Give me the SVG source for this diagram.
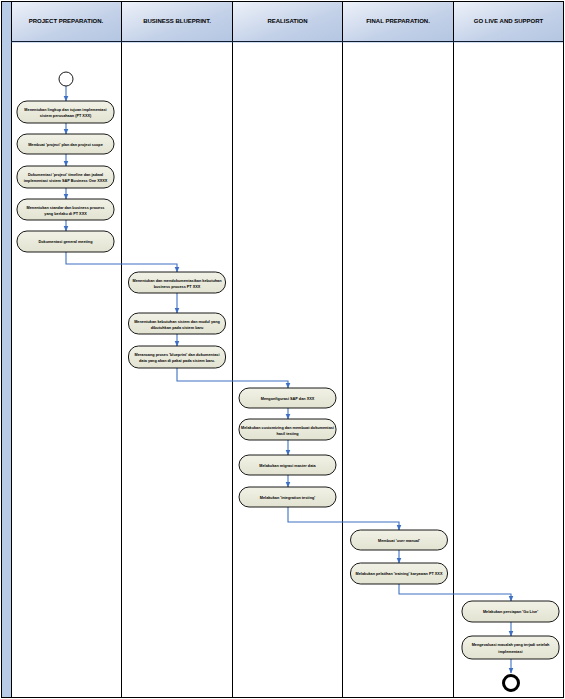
<svg xmlns="http://www.w3.org/2000/svg" width="565" height="699" viewBox="0 0 565 699">
<defs>
<linearGradient id="hdr" x1="0" y1="0" x2="1" y2="1">
<stop offset="0" stop-color="#eef2f9"/>
<stop offset="0.6" stop-color="#c3d1e8"/>
<stop offset="1" stop-color="#b4c6e2"/>
</linearGradient>
<linearGradient id="nodefill" x1="0" y1="0" x2="0" y2="1">
<stop offset="0" stop-color="#f1f1e6"/>
<stop offset="1" stop-color="#e3e3d2"/>
</linearGradient>
<marker id="arr" viewBox="0 0 6 6" refX="5.5" refY="3" markerWidth="6" markerHeight="6" markerUnits="userSpaceOnUse" orient="auto">
<path d="M0,0.5 L6,3 L0,5.5 Z" fill="#3d70c4"/>
</marker>
<style>
.lane{fill:#ffffff;stroke:#000;stroke-width:1}
.hdr{fill:url(#hdr);stroke:#000;stroke-width:1}
.ht{font-family:"Liberation Sans",Arial,sans-serif;font-size:6px;font-weight:bold;fill:#000;text-anchor:middle}
.node rect{fill:url(#nodefill);stroke:#000;stroke-width:0.9}
.nt{font-family:"Liberation Sans",Arial,sans-serif;font-size:3.8px;font-weight:bold;fill:#000;text-anchor:middle}
.conn path{fill:none;stroke:#3d70c4;stroke-width:1.1;marker-end:url(#arr)}
</style>
</defs>

<!-- frame and lanes -->
<g id="pool">
<rect x="1.5" y="1.5" width="10" height="696" fill="#b8cbe6" stroke="#000" stroke-width="1"/>
<rect class="lane" x="11.5" y="41.5" width="110" height="656"/>
<rect class="lane" x="121.5" y="41.5" width="111" height="656"/>
<rect class="lane" x="232.5" y="41.5" width="110" height="656"/>
<rect class="lane" x="342.5" y="41.5" width="111" height="656"/>
<rect class="lane" x="453.5" y="41.5" width="110" height="656"/>
<rect class="hdr" x="11.5" y="1.5" width="110" height="40"/>
<rect class="hdr" x="121.5" y="1.5" width="111" height="40"/>
<rect class="hdr" x="232.5" y="1.5" width="110" height="40"/>
<rect class="hdr" x="342.5" y="1.5" width="111" height="40"/>
<rect class="hdr" x="453.5" y="1.5" width="110" height="40"/>
<line x1="11.5" y1="42" x2="563.5" y2="42" stroke="#3d70c4" stroke-width="1" stroke-dasharray="1,1"/>
<text class="ht" x="66" y="23">PROJECT PREPARATION.</text>
<text class="ht" x="177" y="23">BUSINESS BLUEPRINT.</text>
<text class="ht" x="287.5" y="23">REALISATION</text>
<text class="ht" x="398" y="23">FINAL PREPARATION.</text>
<text class="ht" x="508.5" y="23">GO LIVE AND SUPPORT</text>
</g>

<!-- connectors -->
<g id="connectors" class="conn">
<path d="M66,86 V101"/>
<path d="M66,123 V134"/>
<path d="M66,154 V166"/>
<path d="M66,188 V199"/>
<path d="M66,220 V231"/>
<path d="M66,252 V264 H177 V272"/>
<path d="M177,293 V313"/>
<path d="M177,334 V346"/>
<path d="M177,368 V381 H288 V388"/>
<path d="M288,408 V419"/>
<path d="M288,440 V455"/>
<path d="M288,475 V487"/>
<path d="M288,507 V522 H399 V530"/>
<path d="M399,550 V563"/>
<path d="M399,584 V594 H511 V601"/>
<path d="M511,622 V636"/>
<path d="M511,659 V673"/>
</g>

<!-- start / end -->
<g id="start"><circle cx="66" cy="79" r="7" fill="#fff" stroke="#000" stroke-width="0.9"/></g>
<g id="end"><circle cx="511" cy="683" r="7.5" fill="#fff" stroke="#000" stroke-width="3"/></g>

<!-- lane 1 -->
<g id="n1" class="node"><rect x="17" y="101" width="97" height="22" rx="10"/><text class="nt" x="65.5" y="111">Menentukan lingkup dan tujuan implementasi</text><text class="nt" x="65.5" y="117">sistem perusahaan (PT XXX)</text></g>
<g id="n2" class="node"><rect x="17" y="134" width="97" height="20" rx="10"/><text class="nt" x="65.5" y="145.5">Membuat 'project' plan dan project scope</text></g>
<g id="n3" class="node"><rect x="17" y="166" width="97" height="22" rx="10"/><text class="nt" x="65.5" y="176">Dokumentasi 'project' timeline dan jadwal</text><text class="nt" x="65.5" y="182">implementasi sistem SAP Business One XXXX</text></g>
<g id="n4" class="node"><rect x="17" y="199" width="97" height="21" rx="10"/><text class="nt" x="65.5" y="208.5">Menentukan standar dan business process</text><text class="nt" x="65.5" y="214.5">yang berlaku di PT XXX</text></g>
<g id="n5" class="node"><rect x="17" y="231" width="97" height="21" rx="10"/><text class="nt" x="65.5" y="243">Dokumentasi general meeting</text></g>

<!-- lane 2 -->
<g id="n6" class="node"><rect x="128.5" y="272" width="97" height="21" rx="10"/><text class="nt" x="177" y="281.5">Menentukan dan mendokumentasikan kebutuhan</text><text class="nt" x="177" y="287.5">business process PT XXX</text></g>
<g id="n7" class="node"><rect x="128.5" y="313" width="97" height="21" rx="10"/><text class="nt" x="177" y="322.5">Menentukan kebutuhan sistem dan modul yang</text><text class="nt" x="177" y="328.5">dibutuhkan pada sistem baru</text></g>
<g id="n8" class="node"><rect x="128.5" y="346" width="97" height="22" rx="10"/><text class="nt" x="177" y="356">Merancang proses 'blueprint' dan dokumentasi</text><text class="nt" x="177" y="362">data yang akan di pakai pada sistem baru.</text></g>

<!-- lane 3 -->
<g id="n9" class="node"><rect x="239" y="388" width="97" height="20" rx="10"/><text class="nt" x="287.5" y="399.5">Mengonfigurasi SAP dan XXX</text></g>
<g id="n10" class="node"><rect x="239" y="419" width="97" height="21" rx="10"/><text class="nt" x="287.5" y="428.5">Melakukan customizing dan membuat dokumentasi</text><text class="nt" x="287.5" y="434.5">hasil testing</text></g>
<g id="n11" class="node"><rect x="239" y="455" width="97" height="20" rx="10"/><text class="nt" x="287.5" y="466.5">Melakukan migrasi master data</text></g>
<g id="n12" class="node"><rect x="239" y="487" width="97" height="20" rx="10"/><text class="nt" x="287.5" y="498.5">Melakukan 'integration testing'</text></g>

<!-- lane 4 -->
<g id="n13" class="node"><rect x="350.5" y="530" width="97" height="20" rx="10"/><text class="nt" x="399" y="541.5">Membuat 'user manual'</text></g>
<g id="n14" class="node"><rect x="350.5" y="563" width="97" height="21" rx="10"/><text class="nt" x="399" y="575">Melakukan pelatihan 'training' karyawan PT XXX</text></g>

<!-- lane 5 -->
<g id="n15" class="node"><rect x="462" y="601" width="97" height="21" rx="10"/><text class="nt" x="510.5" y="613">Melakukan persiapan 'Go Live'</text></g>
<g id="n16" class="node"><rect x="462" y="636" width="97" height="23" rx="10"/><text class="nt" x="510.5" y="646">Mengevaluasi masalah yang terjadi setelah</text><text class="nt" x="510.5" y="652.5">implementasi</text></g>
</svg>
